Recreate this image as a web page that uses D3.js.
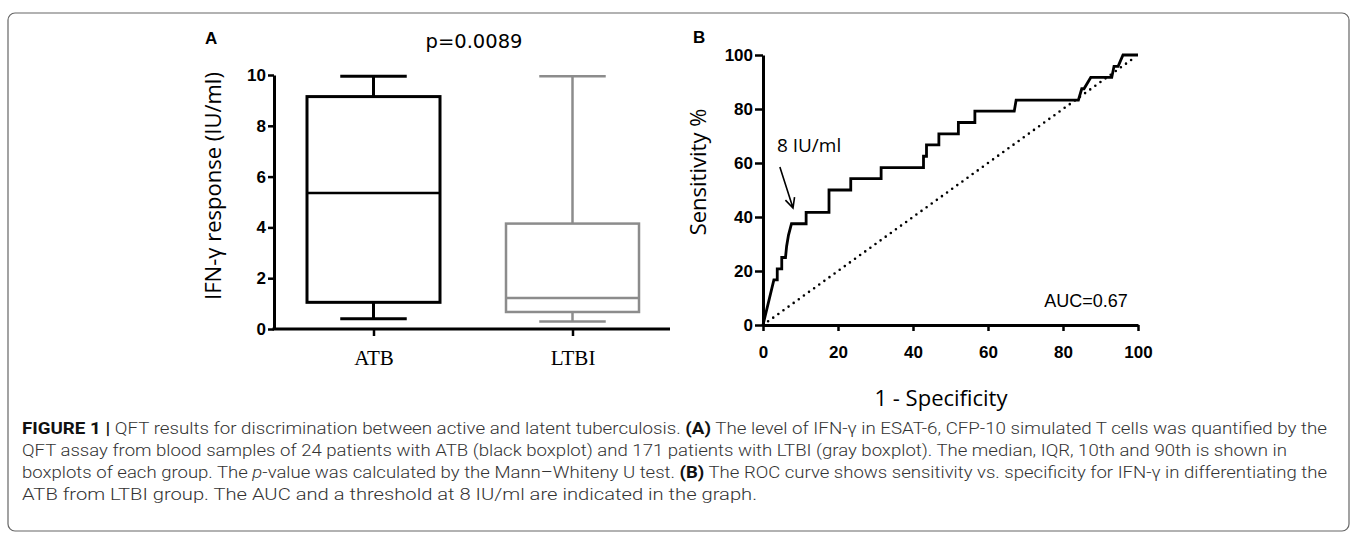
<!DOCTYPE html>
<html>
<head>
<meta charset="utf-8">
<script src="https://cdn.jsdelivr.net/npm/d3@7"></script>
<style>
  body { margin: 0; background: #fff; }
  svg text { fill: #000; }
</style>
</head>
<body>
<div id="figure"></div>
<script>
// panel A - box plot of IFN-gamma response (IU/ml)
const groups = ["ATB", "LTBI"];
const whiskerLow = [0.4, 0.3];
const q1 = [1.05, 0.67];
const median = [5.35, 1.22];
const q3 = [9.15, 4.15];
const whiskerHigh = [9.95, 9.95];
const boxColors = ["#000000", "#8c8c8c"];
const yTicksA = [0, 2, 4, 6, 8, 10];

// panel B - ROC curve, 1 - specificity (%) vs sensitivity (%)
const rocFpr = [0, 2.9, 3.8, 3.8, 5.0, 5.0, 6.0, 6.3, 6.8, 7.6, 11.5, 11.5, 17.6, 17.6, 23.4, 23.4, 31.5, 31.5,
    42.8, 42.8, 43.6, 43.6, 46.9, 46.9, 52.1, 52.1, 56.5, 56.5, 67.0, 67.5, 84.1, 85.0, 85.6, 87.4, 93.0, 93.6,
    94.7, 96.0, 100];
const rocSens = [0, 16.7, 16.7, 20.8, 20.8, 25.0, 25.0, 29.2, 33.3, 37.5, 37.5, 41.7, 41.7, 50.0, 50.0, 54.2, 54.2, 58.3,
    58.3, 62.5, 62.5, 66.7, 66.7, 70.8, 70.8, 75.0, 75.0, 79.2, 79.2, 83.3, 83.3, 87.5, 87.5, 91.7, 91.7, 95.8,
    95.8, 100, 100];
const ticksB = [0, 20, 40, 60, 80, 100];

const captionLines = [
    [["FIGURE 1 | ", "b"], ["QFT results for discrimination between active and latent tuberculosis. ", ""], ["(A)", "b"],
     [" The level of IFN-\u03b3 in ESAT-6, CFP-10 simulated T cells was quantified by the", ""]],
    [["QFT assay from blood samples of 24 patients with ATB (black boxplot) and 171 patients with LTBI (gray boxplot). The median, IQR, 10th and 90th is shown in", ""]],
    [["boxplots of each group. The ", ""], ["p", "i"], ["-value was calculated by the Mann\u2013Whiteny U test. ", ""], ["(B)", "b"],
     [" The ROC curve shows sensitivity vs. specificity for IFN-\u03b3 in differentiating the", ""]],
    [["ATB from LTBI group. The AUC and a threshold at 8 IU/ml are indicated in the graph.", ""]]
];
const captionEnds = [1327, 1287, 1327, 757];

const width = 1357, height = 544;
const tickFont = "'Liberation Sans', Arial, sans-serif";
const labelFont = "'Open Sans', sans-serif";

const svg = d3.select("#figure")
    .append("svg")
    .attr("width", width)
    .attr("height", height);

// frame
svg.append("rect")
    .attr("x", 8).attr("y", 13)
    .attr("width", 1341).attr("height", 518)
    .attr("rx", 7)
    .attr("fill", "none")
    .attr("stroke", "#666")
    .attr("stroke-width", 1.2);

function styleAxis(g) {
    g.select(".domain").attr("stroke-width", 3);
    g.selectAll(".tick line").attr("stroke-width", 2.5);
    g.selectAll(".tick text")
        .attr("font-family", tickFont)
        .attr("font-weight", "bold")
        .attr("font-size", 17);
}

function drawBoxPlot() {
    const y = d3.scaleLinear().domain([0, 10]).range([329, 75]);
    const x = d3.scalePoint().domain(groups).range([274, 672]).padding(0.5);
    const boxW = 133;

    const gy = svg.append("g")
        .attr("transform", "translate(274,0)")
        .call(d3.axisLeft(y).tickValues(yTicksA).tickSize(6).tickSizeOuter(0).tickPadding(2));
    styleAxis(gy);

    const gx = svg.append("g")
        .attr("transform", "translate(0,329)")
        .call(d3.axisBottom(x).tickSize(7).tickSizeOuter(0).tickPadding(14));
    styleAxis(gx);
    gx.select(".domain").attr("d", "M272.5,0H670");
    gx.selectAll(".tick text")
        .attr("font-family", "'Liberation Serif', 'Times New Roman', serif")
        .attr("font-weight", "normal")
        .attr("font-size", 21);

    const boxes = svg.append("g")
        .selectAll("g")
        .data(groups)
        .join("g")
        .attr("stroke", (d, i) => boxColors[i])
        .attr("fill", "none");

    boxes.append("rect")
        .attr("x", d => x(d) - boxW / 2)
        .attr("y", (d, i) => y(q3[i]))
        .attr("width", boxW)
        .attr("height", (d, i) => y(q1[i]) - y(q3[i]))
        .attr("stroke-width", (d, i) => i == 0 ? 3 : 2.5);

    boxes.append("line")
        .attr("x1", d => x(d) - boxW / 2).attr("x2", d => x(d) + boxW / 2)
        .attr("y1", (d, i) => y(median[i])).attr("y2", (d, i) => y(median[i]))
        .attr("stroke-width", 2.5);

    // whiskers + caps
    [[whiskerHigh, q3], [whiskerLow, q1]].forEach(([w, q]) => {
        boxes.append("line")
            .attr("x1", d => x(d)).attr("x2", d => x(d))
            .attr("y1", (d, i) => y(w[i])).attr("y2", (d, i) => y(q[i]))
            .attr("stroke-width", (d, i) => i == 0 ? 3 : 2.5);
        boxes.append("line")
            .attr("x1", d => x(d) - boxW / 4).attr("x2", d => x(d) + boxW / 4)
            .attr("y1", (d, i) => y(w[i])).attr("y2", (d, i) => y(w[i]))
            .attr("stroke-width", (d, i) => i == 0 ? 3 : 2.5);
    });

    svg.append("text")
        .attr("x", 205).attr("y", 44)
        .attr("font-family", tickFont).attr("font-weight", "bold").attr("font-size", 17)
        .text("A");

    svg.append("text")
        .attr("x", 474).attr("y", 48)
        .attr("text-anchor", "middle")
        .attr("font-family", "'DejaVu Sans', sans-serif").attr("font-size", 19.5)
        .text("p=0.0089");

    svg.append("text")
        .attr("transform", "translate(221,186) rotate(-90)")
        .attr("text-anchor", "middle")
        .attr("font-family", labelFont).attr("font-size", 22)
        .text("IFN-\u03b3 response (IU/ml)");
}

function drawRoc() {
    const x = d3.scaleLinear().domain([0, 100]).range([763, 1138]);
    const y = d3.scaleLinear().domain([0, 100]).range([325, 55]);

    const gx = svg.append("g")
        .attr("transform", "translate(0,325)")
        .call(d3.axisBottom(x).tickValues(ticksB).tickSize(6).tickSizeOuter(0).tickPadding(15));
    styleAxis(gx);

    const gy = svg.append("g")
        .attr("transform", "translate(763,0)")
        .call(d3.axisLeft(y).tickValues(ticksB).tickSize(8).tickSizeOuter(0).tickPadding(2));
    styleAxis(gy);

    // reference diagonal
    svg.append("line")
        .attr("x1", x(0)).attr("y1", y(0))
        .attr("x2", x(99)).attr("y2", y(99))
        .attr("stroke", "#000")
        .attr("stroke-width", 2.6)
        .attr("stroke-linecap", "round")
        .attr("stroke-dasharray", "0 6.3");

    const line = d3.line()
        .x(d => x(d[0]))
        .y(d => y(d[1]));

    svg.append("path")
        .datum(rocFpr.map((f, i) => [f, rocSens[i]]))
        .attr("d", line)
        .attr("fill", "none")
        .attr("stroke", "#000")
        .attr("stroke-width", 2.8);

    // threshold annotation
    const ax1 = x(4.5), ay1 = y(58.5), ax2 = x(8), ay2 = y(43.3);
    const ang = Math.atan2(ay2 - ay1, ax2 - ax1);
    const head = 11, spread = 0.45;
    svg.append("path")
        .attr("d", `M${ax1},${ay1}L${ax2},${ay2}` +
            `M${ax2 - head * Math.cos(ang - spread)},${ay2 - head * Math.sin(ang - spread)}L${ax2},${ay2}` +
            `L${ax2 - head * Math.cos(ang + spread)},${ay2 - head * Math.sin(ang + spread)}`)
        .attr("fill", "none")
        .attr("stroke", "#000")
        .attr("stroke-width", 1.6);

    svg.append("text")
        .attr("x", x(3.7)).attr("y", y(64.2))
        .attr("font-family", labelFont).attr("font-size", 19)
        .text("8 IU/ml");

    svg.append("text")
        .attr("x", x(97.3)).attr("y", y(6.7))
        .attr("text-anchor", "end")
        .attr("font-family", tickFont).attr("font-size", 18)
        .text("AUC=0.67");

    svg.append("text")
        .attr("x", 693).attr("y", 43)
        .attr("font-family", tickFont).attr("font-weight", "bold").attr("font-size", 17)
        .text("B");

    svg.append("text")
        .attr("transform", "translate(706,172) rotate(-90)")
        .attr("text-anchor", "middle")
        .attr("font-family", labelFont).attr("font-size", 22)
        .text("Sensitivity %");

    svg.append("text")
        .attr("x", 941).attr("y", 406)
        .attr("text-anchor", "middle")
        .attr("font-family", labelFont).attr("font-size", 22)
        .text("1 - Specificity");
}

function drawCaption() {
    const cap = svg.append("g")
        .attr("font-family", "Roboto, 'Liberation Sans', sans-serif")
        .attr("font-size", 16.5);

    captionLines.forEach((parts, li) => {
        const t = cap.append("text")
            .attr("x", 22)
            .attr("y", 434 + li * 22)
            .attr("textLength", captionEnds[li] - 22)
            .attr("lengthAdjust", "spacingAndGlyphs");
        parts.forEach(p => {
            t.append("tspan")
                .attr("font-weight", p[1] == "b" ? 700 : 300)
                .attr("font-style", p[1] == "i" ? "italic" : "normal")
                .attr("fill", p[1] == "b" ? "#111" : "#333")
                .text(p[0]);
        });
    });
}

drawBoxPlot();
drawRoc();
drawCaption();
</script>
</body>
</html>
